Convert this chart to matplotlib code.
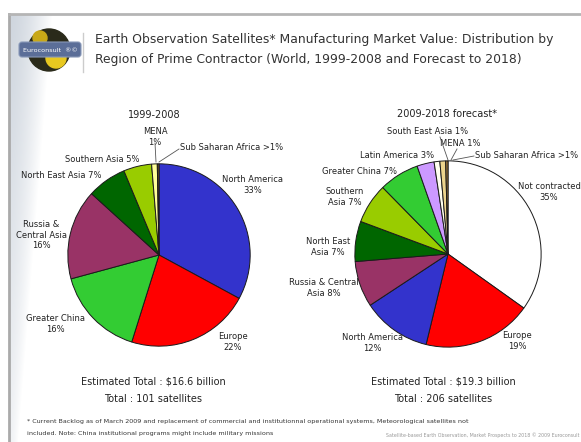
import numpy as np
import matplotlib
matplotlib.use("Agg")
import matplotlib.pyplot as plt
from matplotlib.patches import Circle, FancyBboxPatch

W, H = 581, 442

# 1999-2008 split by region of prime contractor (%)
hist_regions = ["North America", "Europe", "Greater China", "Russia & Central Asia",
                "North East Asia", "Southern Asia", "MENA", "Sub Saharan Africa"]
hist_share = [33, 22, 16, 16, 7, 5, 1, 0.3]
hist_colors = ["#3333cc", "#ff0000", "#33cc33", "#993366",
               "#006600", "#99cc00", "#ffff99", "#806020"]

# 2009-2018 forecast split (%)
fc_regions = ["Not contracted", "Europe", "North America", "Russia & Central Asia",
              "North East Asia", "Southern Asia", "Greater China", "Latin America",
              "South East Asia", "MENA", "Sub Saharan Africa"]
fc_share = [35, 19, 12, 8, 7, 7, 7, 3, 1, 1, 0.4]
fc_colors = ["#ffffff", "#ff0000", "#3333cc", "#993366",
             "#006600", "#99cc00", "#33cc33", "#cc99ff",
             "#fffff0", "#ecd48c", "#a07838"]

hist_labels = ["North America\n33%", "Europe\n22%", "Greater China\n16%",
               "Russia &\nCentral Asia\n16%", "North East Asia 7%", "Southern Asia 5%",
               "MENA\n1%", "Sub Saharan Africa >1%"]
fc_labels = ["Not contracted\n35%", "Europe\n19%", "North America\n12%",
             "Russia & Central\nAsia 8%", "North East\nAsia 7%", "Southern\nAsia 7%",
             "Greater China 7%", "Latin America 3%", "South East Asia 1%",
             "MENA 1%", "Sub Saharan Africa >1%"]

# label anchors in pixels (x, y from top), horizontal alignment
hist_label_pos = [(253, 185, "center"), (233, 342, "center"), (55, 324, "center"),
                  (41, 235, "center"), (61, 176, "center"), (102, 159, "center"),
                  (155, 137, "center"), (180, 147, "left")]
fc_label_pos = [(549, 192, "center"), (517, 341, "center"), (372, 343, "center"),
                (324, 288, "center"), (328, 247, "center"), (345, 197, "center"),
                (359, 172, "center"), (397, 155, "center"), (428, 132, "center"),
                (460, 144, "center"), (475, 155, "left")]

TXT = "#222222"
FONT = "DejaVu Sans"

fig = plt.figure(figsize=(W / 100, H / 100), dpi=100)
fig.patch.set_facecolor("white")

# background axes in pixel coordinates (origin top-left)
bg = fig.add_axes([0, 0, 1, 1])
bg.set_xlim(0, W)
bg.set_ylim(H, 0)
bg.axis("off")

# shaded strip down the left edge, narrowing towards the bottom
yy, xx = np.mgrid[0:H, 0:60]
edge = 52 - (yy - 14) * 0.08
t = np.clip((xx - 10) / np.maximum(edge - 10, 1), 0, 1)
alpha = (1 - t ** 1.5) * 0.85 * np.clip(1 - (yy - 14) / 600, 0.3, 1)
alpha[yy < 14] = 0
alpha[xx < 10] = 0
rgba = np.zeros((H, 60, 4))
rgba[..., 0] = 0.78
rgba[..., 1] = 0.81
rgba[..., 2] = 0.85
rgba[..., 3] = alpha
bg.imshow(rgba, extent=(0, 60, H, 0), zorder=0, interpolation="bilinear")
bg.set_xlim(0, W)
bg.set_ylim(H, 0)
bg.plot([9, 9], [14, H], color="#aaaaaa", lw=2, zorder=1)
bg.plot([9, W], [14, 14], color="#b5b5b5", lw=2, zorder=1)

# logo
bg.add_patch(Circle((49, 50), 21, color="#2a2a1a", zorder=2))
bg.add_patch(Circle((56, 58), 10, color="#e8c820", zorder=2))
bg.add_patch(Circle((40, 38), 7, color="#c8a818", zorder=2))
bg.add_patch(FancyBboxPatch((19, 42), 62, 15, boxstyle="round,pad=0,rounding_size=3",
                            fc="#5b6e98", ec="#8898b8", lw=0.8, zorder=3))
bg.text(50, 50, "Euroconsult  \u00ae\u00a9", color="white", fontsize=4.6, ha="center",
        va="center", family=FONT, zorder=4)
bg.plot([83, 83], [33, 72], color="#cccccc", lw=1, zorder=2)

bg.text(95, 40, "Earth Observation Satellites* Manufacturing Market Value: Distribution by",
        fontsize=8.9, color="#333333", family=FONT, va="center")
bg.text(95, 60, "Region of Prime Contractor (World, 1999-2008 and Forecast to 2018)",
        fontsize=8.9, color="#333333", family=FONT, va="center")


def draw_pie(cx, cy, r, share, colors, labels, label_pos, title, tx, ty):
    ax = fig.add_axes([(cx - r) / W, (H - cy - r) / H, 2 * r / W, 2 * r / H])
    ax.pie(share, colors=colors, startangle=90, counterclock=False, radius=1,
           wedgeprops=dict(edgecolor="#1a1a1a", linewidth=0.7))
    ax.set_xlim(-1.02, 1.02)
    ax.set_ylim(-1.02, 1.02)
    ax.axis("off")
    for lab, (lx, ly, ha) in zip(labels, label_pos):
        bg.text(lx, ly, lab, fontsize=6, color=TXT, ha=ha, va="center",
                multialignment="center", family=FONT, linespacing=1.15)
    bg.text(tx, ty, title, fontsize=7, color=TXT, ha="center", va="center", family=FONT)
    return ax


draw_pie(159, 255, 93, hist_share, hist_colors, hist_labels, hist_label_pos,
         "1999-2008", 154, 115)
draw_pie(448, 254, 95, fc_share, fc_colors, fc_labels, fc_label_pos,
         "2009-2018 forecast*", 447, 114)

# leader lines for the thin slices
lead = dict(color="#555555", lw=0.6, zorder=5)
bg.plot([155, 156], [143, 162], **lead)
bg.plot([159, 179], [162, 149], **lead)
bg.plot([440, 448], [137, 160], **lead)
bg.plot([457, 451], [149, 160], **lead)
bg.plot([453, 474], [160, 156], **lead)

# totals
for x, lines in [(153, ["Estimated Total : $16.6 billion", "Total : 101 satellites"]),
                 (443, ["Estimated Total : $19.3 billion", "Total : 206 satellites"])]:
    bg.text(x, 382, lines[0], fontsize=7, color=TXT, ha="center", va="center", family=FONT)
    bg.text(x, 399, lines[1], fontsize=7, color=TXT, ha="center", va="center", family=FONT)

bg.text(27, 422, "* Current Backlog as of March 2009 and replacement of commercial and "
        "institutionnal operational systems, Meteorological satellites not",
        fontsize=4.55, color="#333333", va="center", family=FONT)
bg.text(27, 433, "included. Note: China institutional programs might include military missions",
        fontsize=4.55, color="#333333", va="center", family=FONT)
bg.text(579, 435, "Satellite-based Earth Observation, Market Prospects to 2018 \u00a9 2009 Euroconsult",
        fontsize=3.4, color="#999999", ha="right", va="center", family=FONT)

fig.savefig("out.png", dpi=100, facecolor="white")
